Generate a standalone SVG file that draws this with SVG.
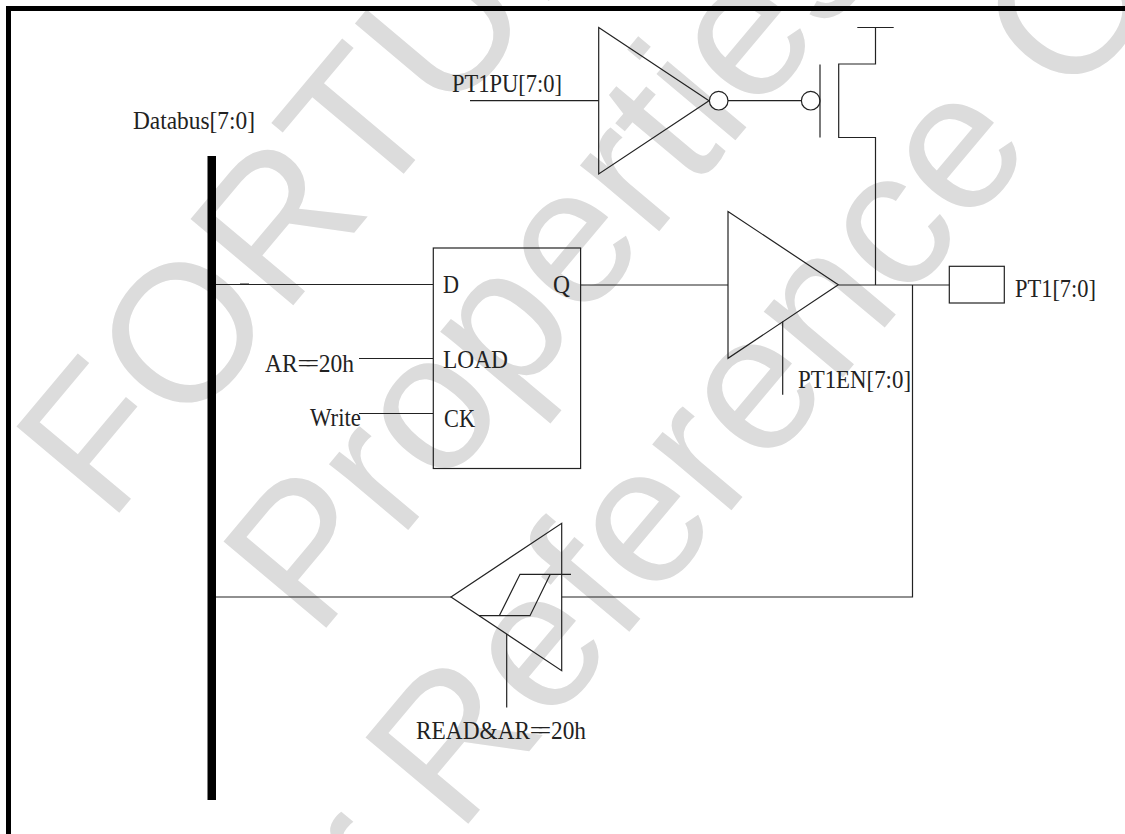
<svg xmlns="http://www.w3.org/2000/svg" width="1125" height="834" viewBox="0 0 1125 834">
<style>
.w{font-family:"Liberation Sans",Arial,sans-serif;font-size:195px;fill:#dcdcdc}
.t{font-family:"Liberation Serif","Times New Roman",serif;font-size:26px;fill:#222}
.l{fill:none;stroke:#222;stroke-width:1.2}
.s{fill:#fff;stroke:#222;stroke-width:1.2}
</style>
<rect width="1125" height="834" fill="#fff"/>
<g id="watermark">
<text class="w" transform="translate(109,525) rotate(-50)">FORTUNE</text>
<text class="w" transform="translate(316,640) rotate(-50)">Properties</text>
<text class="w" transform="translate(458,836) rotate(-50)">Reference Only</text>
<text class="w" transform="translate(235,1100) rotate(-50)">For</text>
</g>
<g id="frame"><path d="M8.500 834V8.500H1125" fill="none" stroke="#000" stroke-width="5"/></g>
<g id="bus"><rect x="207.500" y="156" width="8.500" height="644" fill="#000"/><text class="t" x="133" y="129" textLength="122" lengthAdjust="spacingAndGlyphs">Databus[7:0]</text></g>
<g id="connectors">
<path class="l" d="M216 284.500H433M240 284H249M359 358.500H433M359 413.500H433M580.500 285H728M838.500 285H949.500M875.500 285V137.500H838.700V64H875.500V27.500M857.300 27.500H893.700M912.500 285V597H561.700M451 597H216M470 100.700H598.700M728 100.700H801.400M782.700 321.500V394.700M506.700 634V707.500"/>
</g>
<g id="inverter"><path class="l" d="M598.700 27.500L709 100.700L598.700 174Z"/><circle class="s" cx="718.700" cy="100.700" r="9.300"/><text class="t" x="452" y="92" textLength="110" lengthAdjust="spacingAndGlyphs">PT1PU[7:0]</text></g>
<g id="pmos"><circle class="s" cx="810.700" cy="100.700" r="9.300"/><path class="l" d="M820 64.500V137.500"/></g>
<g id="flipflop"><rect x="433.300" y="248" width="147.300" height="220.500" fill="none" stroke="#222" stroke-width="1.200"/>
<text class="t" x="443" y="293" textLength="16" lengthAdjust="spacingAndGlyphs">D</text>
<text class="t" x="553" y="293" textLength="17" lengthAdjust="spacingAndGlyphs">Q</text>
<text class="t" x="443" y="367.500" textLength="65" lengthAdjust="spacingAndGlyphs">LOAD</text>
<text class="t" x="444" y="426.500" textLength="31" lengthAdjust="spacingAndGlyphs">CK</text>
<text class="t" x="265" y="371.500" textLength="89" lengthAdjust="spacingAndGlyphs">AR=<tspan dx="-6">=</tspan>20h</text>
<text class="t" x="310" y="426" textLength="51" lengthAdjust="spacingAndGlyphs">Write</text></g>
<g id="buffer"><path class="l" d="M728 211.500L838.300 284.700L728 358.300Z"/><text class="t" x="798" y="387.500" textLength="113" lengthAdjust="spacingAndGlyphs">PT1EN[7:0]</text></g>
<g id="pad"><rect x="949.300" y="266.300" width="55" height="36.700" fill="none" stroke="#222" stroke-width="1.200"/><text class="t" x="1015" y="297" textLength="81" lengthAdjust="spacingAndGlyphs">PT1[7:0]</text></g>
<g id="schmitt"><path class="l" d="M451 597L561.700 523.300V670.700Z"/><path class="l" d="M571 574.300H520L499.300 615.700M479 615.700H530L550.300 574.300"/><text class="t" x="416" y="739" textLength="170" lengthAdjust="spacingAndGlyphs">READ&amp;AR=<tspan dx="-6">=</tspan>20h</text></g>
</svg>
